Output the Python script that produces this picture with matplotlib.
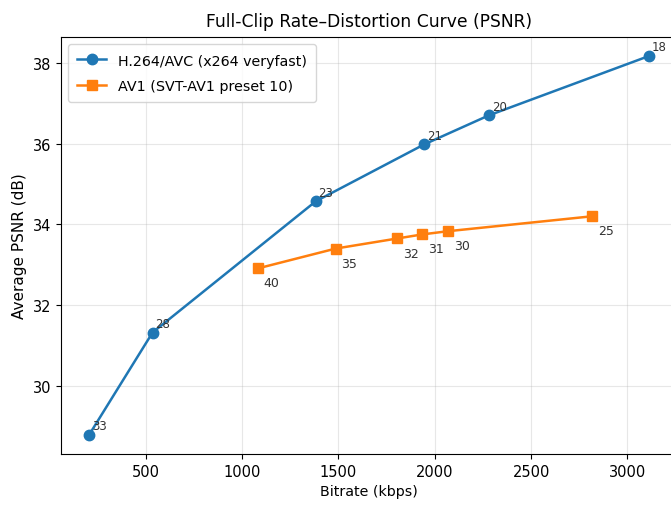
import matplotlib
matplotlib.use("Agg")
import matplotlib.pyplot as plt

h264_bitrate = [205, 535, 1382, 1945, 2281, 3112]
h264_psnr = [28.78, 31.32, 34.57, 35.98, 36.70, 38.17]
h264_crf = ["33", "28", "23", "21", "20", "18"]

av1_bitrate = [1083, 1486, 1806, 1935, 2069, 2818]
av1_psnr = [32.91, 33.40, 33.65, 33.75, 33.83, 34.20]
av1_crf = ["40", "35", "32", "31", "30", "25"]

fig = plt.figure(figsize=(6.71, 5.06), dpi=100)
ax = fig.add_axes([0.0909, 0.1008, 0.918, 0.824])

ax.plot(h264_bitrate, h264_psnr, marker="o", color="#1f77b4", linewidth=1.8,
        markersize=7.5, label="H.264/AVC (x264 veryfast)")
ax.plot(av1_bitrate, av1_psnr, marker="s", color="#ff7f0e", linewidth=1.8,
        markersize=7.5, label="AV1 (SVT-AV1 preset 10)")

for x, y, t in zip(h264_bitrate, h264_psnr, h264_crf):
    ax.annotate(t, (x, y), textcoords="offset points", xytext=(2, 4),
                fontsize=8.5, color="#333333")
for x, y, t in zip(av1_bitrate, av1_psnr, av1_crf):
    ax.annotate(t, (x, y), textcoords="offset points", xytext=(4, -13),
                fontsize=9, color="#333333")

ax.set_title("Full-Clip Rate–Distortion Curve (PSNR)", fontsize=12.3, pad=8)
ax.set_xlabel("Bitrate (kbps)", fontsize=10.3)
ax.set_ylabel("Average PSNR (dB)", fontsize=11)
ax.grid(True, alpha=0.3)
ax.set_xticks([500, 1000, 1500, 2000, 2500, 3000])
ax.set_yticks([30, 32, 34, 36, 38])
ax.tick_params(labelsize=10.5)
ax.legend(loc="upper left", fontsize=10.3, labelspacing=0.8, borderpad=0.65)

fig.savefig("out.png", dpi=100)
